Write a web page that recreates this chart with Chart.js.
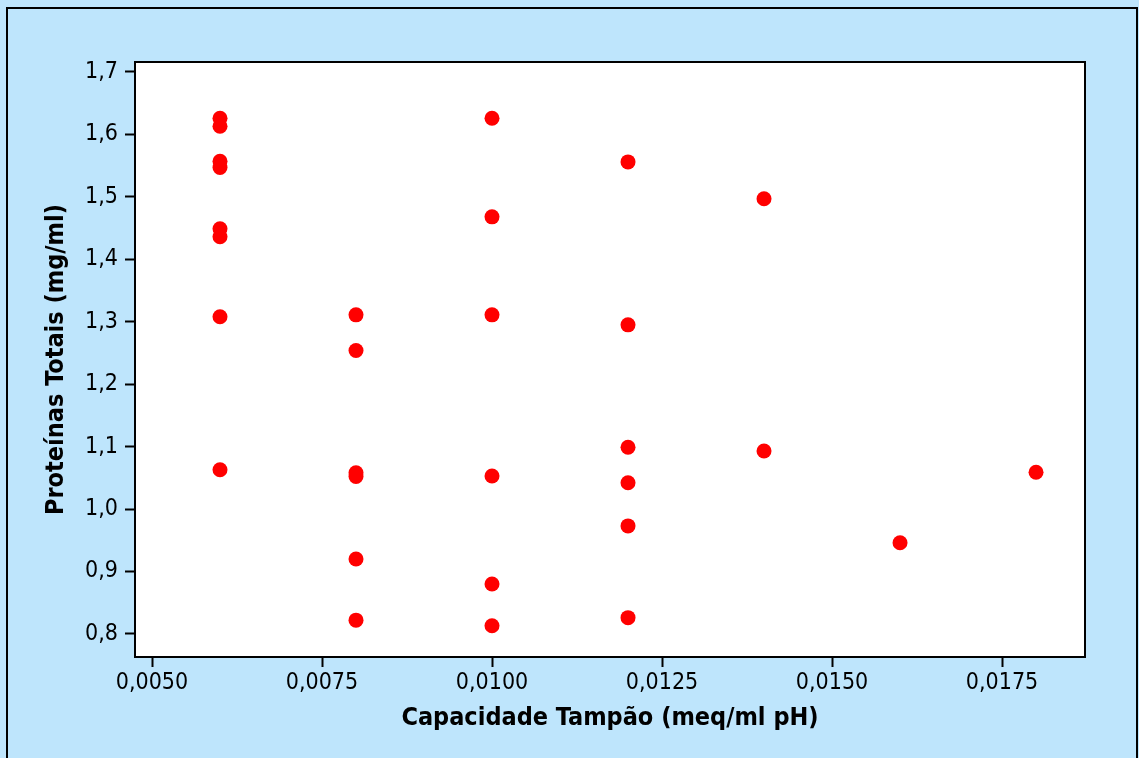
<!DOCTYPE html>
<html>
<head>
<meta charset="utf-8">
<script src="https://cdn.jsdelivr.net/npm/chart.js@4"></script>
<style>
  html, body { margin: 0; padding: 0; background: #bee5fc; }
  #wrap { width: 1139px; height: 758px; position: relative; }
</style>
</head>
<body>
<div id="wrap"><canvas id="grafico"></canvas></div>
<script>
// capacidade tampão (meq/ml pH) e proteínas totais (mg/ml) de cada amostra
const capacidade = [
  0.006, 0.006, 0.006, 0.006, 0.006, 0.006, 0.006, 0.006,
  0.008, 0.008, 0.008, 0.008, 0.008, 0.008,
  0.010, 0.010, 0.010, 0.010, 0.010, 0.010,
  0.012, 0.012, 0.012, 0.012, 0.012, 0.012,
  0.014, 0.014,
  0.016,
  0.018
];
const proteinas = [
  1.626, 1.613, 1.557, 1.547, 1.449, 1.436, 1.308, 1.063,
  1.311, 1.254, 1.058, 1.052, 0.920, 0.822,
  1.626, 1.468, 1.311, 1.053, 0.880, 0.813,
  1.556, 1.295, 1.099, 1.042, 0.973, 0.826,
  1.497, 1.093,
  0.946,
  1.059
];
const xTicks = [0.005, 0.0075, 0.01, 0.0125, 0.015, 0.0175];
const yTicks = [0.8, 0.9, 1.0, 1.1, 1.2, 1.3, 1.4, 1.5, 1.6, 1.7];

const pontos = capacidade.map((x, i) => ({ x: x, y: proteinas[i] }));

// fundo azul com moldura e caixa branca do gráfico
const moldura = {
  id: "moldura",
  beforeDraw(chart) {
    const ctx = chart.ctx;
    const a = chart.chartArea;
    ctx.save();
    ctx.fillStyle = "#bee5fc";
    ctx.fillRect(0, 0, chart.width, chart.height);
    ctx.strokeStyle = "#000";
    ctx.lineWidth = 2;
    ctx.strokeRect(7, 8, 1130, 800);
    ctx.fillStyle = "#fff";
    ctx.fillRect(a.left, a.top, a.right - a.left, a.bottom - a.top);
    ctx.restore();
  },
  afterDatasetsDraw(chart) {
    const ctx = chart.ctx;
    const a = chart.chartArea;
    ctx.save();
    ctx.strokeStyle = "#000";
    ctx.lineWidth = 2;
    ctx.strokeRect(a.left, a.top, a.right - a.left, a.bottom - a.top);
    ctx.restore();
  }
};

const fonte = "'DejaVu Sans Condensed', Tahoma, 'DejaVu Sans', sans-serif";

new Chart(document.getElementById("grafico"), {
  type: "scatter",
  data: {
    datasets: [{
      data: pontos,
      backgroundColor: "#ff0000",
      borderColor: "#ff0000",
      borderWidth: 0,
      pointRadius: 7.5,
      pointHoverRadius: 7.5
    }]
  },
  options: {
    responsive: true,
    maintainAspectRatio: false,
    animation: false,
    layout: { padding: { left: 0, right: 54, top: 62, bottom: 0 } },
    plugins: {
      legend: { display: false },
      tooltip: { enabled: false }
    },
    scales: {
      x: {
        type: "linear",
        min: 0.00475,
        max: 0.01872,
        afterBuildTicks: s => { s.ticks = xTicks.map(v => ({ value: v })); },
        afterFit: s => { s.height = 101; },
        grid: { drawOnChartArea: false, drawTicks: true, tickLength: 10, tickColor: "#000", tickWidth: 2 },
        border: { display: true, color: "#000", width: 2 },
        ticks: {
          color: "#000",
          padding: 2,
          maxRotation: 0,
          font: { family: fonte, size: 23 },
          callback: v => v.toFixed(4).replace(".", ",")
        },
        title: {
          display: true,
          text: "Capacidade Tampão (meq/ml pH)",
          color: "#000",
          font: { family: fonte, size: 25, weight: "bold" },
          padding: { top: 0, bottom: 25 }
        }
      },
      y: {
        type: "linear",
        min: 0.763,
        max: 1.716,
        afterBuildTicks: s => { s.ticks = yTicks.map(v => ({ value: v })); },
        afterFit: s => { s.width = 135; },
        grid: { drawOnChartArea: false, drawTicks: true, tickLength: 10, tickColor: "#000", tickWidth: 2 },
        border: { display: true, color: "#000", width: 2 },
        ticks: {
          color: "#000",
          padding: 7,
          font: { family: fonte, size: 23 },
          callback: v => v.toFixed(1).replace(".", ",")
        },
        title: {
          display: true,
          text: "Proteínas Totais (mg/ml)",
          color: "#000",
          font: { family: fonte, size: 25, weight: "bold" },
          padding: { top: 41, bottom: 0 }
        }
      }
    }
  },
  plugins: [moldura]
});
</script>
</body>
</html>
